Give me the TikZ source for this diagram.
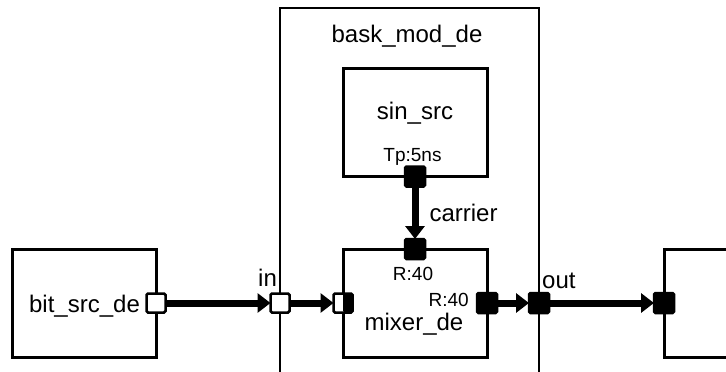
\documentclass[tikz,border=0pt]{standalone}
\usepackage{fontspec}
\setmainfont{Liberation Sans}
\usetikzlibrary{arrows.meta}

\tikzset{
    block/.style={draw, line width=3pt, inner sep=0pt, outer sep=0pt,
        minimum width=144pt, minimum height=108pt},
    port/.style={draw, line width=2.5pt, rounded corners=1.5pt, inner sep=0pt,
        outer sep=0pt, minimum size=19pt},
    bport/.style={port, fill=black, minimum size=20pt},
    wport/.style={port, fill=white},
    hport/.style={port, fill=white,
        path picture={\fill[black] (path picture bounding box.north)
            rectangle (path picture bounding box.south east);}},
    wire/.style={->, line width=7pt},
    lbl/.style={font=\fontsize{24}{28}\selectfont, inner sep=0pt, anchor=base},
    plbl/.style={font=\fontsize{19}{22}\selectfont, inner sep=0pt, anchor=base},
}

\begin{document}
\begin{tikzpicture}[x=1pt, y=-1pt, >={Triangle[length=13pt,width=19pt]}]
    \useasboundingbox (0,0) rectangle (726,372);
    \clip (0,0) rectangle (726,372);

    % enclosing module
    \node[draw, line width=1.2pt, inner sep=0pt, outer sep=0pt, anchor=north west,
        minimum width=259pt, minimum height=400pt] (mod) at (280,8) {};
    \node[lbl] (modname) at (407,42) {bask\_mod\_de};

    % blocks
    \node[block] (sin) at (415,122.5) {};
    \node[block] (mix) at (415,303) {};
    \node[block] (bit) at (84,303) {};
    \node[block, anchor=north west, minimum width=100pt] (sink) at (664,249) {};

    \node[lbl] (sinname) at (415,119) {sin\_src};
    \node[lbl] (mixname) at (414,330) {mixer\_de};
    \node[lbl] (bitname) at (84.5,312) {bit\_src\_de};

    % ports
    \node[bport] (sinout) at (sin.south) {};
    \node[bport] (mixtop) at (mix.north) {};
    \node[hport] (mixin) at (mix.west) {};
    \node[bport] (mixout) at (mix.east) {};
    \node[wport] (bitout) at (bit.east) {};
    \node[wport] (inport) at (280,303) {};
    \node[bport] (outport) at (539,303) {};
    \node[bport] (sinkin) at (sink.west) {};

    \node[plbl] at (412.5,161) {Tp:5ns};
    \node[plbl] at (413,280) {R:40};
    \node[plbl, anchor=base east] at (469,306) {R:40};
    \node[lbl, anchor=base west] at (258,286.5) {in};
    \node[lbl, anchor=base west] at (542,288) {out};

    % connections
    \draw[wire] (sinout.south) -- (mixtop.north)
        node[midway, lbl, anchor=base west, xshift=11pt, yshift=-9pt] {carrier};
    \draw[wire] (bitout.east) -- (inport.west);
    \draw[wire] (inport.east) -- (mixin.west);
    \draw[wire] (mixout.east) -- (outport.west);
    \draw[wire] (outport.east) -- (sinkin.west);
\end{tikzpicture}
\end{document}
